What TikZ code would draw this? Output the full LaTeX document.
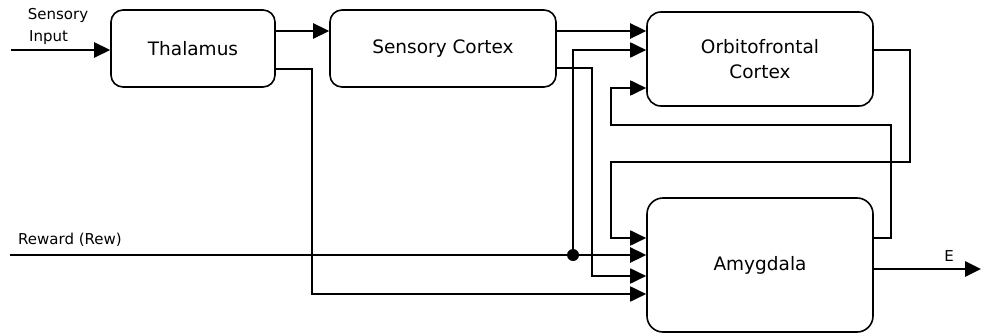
\documentclass[tikz,border=0pt]{standalone}
\usepackage{fontspec}
\setmainfont{DejaVu Sans}
\usetikzlibrary{arrows.meta,calc}
\begin{document}
\begin{tikzpicture}[x=1pt,y=-1pt,
  box/.style={draw,rounded corners=12pt,line width=1.6pt,align=center,inner sep=0pt,
    font=\fontsize{18.5}{25}\selectfont},
  lbl/.style={inner sep=0pt,font=\fontsize{15}{18}\selectfont},
  tip/.style={-{Triangle[length=16pt,width=15pt]}},
  mainln/.style={tip,line width=2.6pt},
  thinln/.style={tip,line width=1.8pt}]
\useasboundingbox (0,0) rectangle (981,334);
% boxes
\node[box,minimum width=164pt,minimum height=77pt] (thal) at (193,48.5) {Thalamus};
\node[box,minimum width=226pt,minimum height=77pt] (sc) at (443,48.5) {Sensory Cortex};
\node[box,minimum width=226pt,minimum height=94pt,rounded corners=14pt] (ofc) at (760,59) {Orbitofrontal\\Cortex};
\node[box,minimum width=226pt,minimum height=134pt,rounded corners=16pt] (amy) at (760,265) {Amygdala};
% labels
\node[lbl] (sens) at (58,15) {Sensory};
\node[lbl,anchor=west] (inp) at (29,38) {Input};
\node[lbl,anchor=west] (rewl) at (18,240) {Reward (Rew)};
\node[lbl] (elbl) at (949,256) {E};
% routing coordinates
\coordinate (in) at (11,50);
\coordinate (y31) at (0,31);
\coordinate (ta) at (312,69);
\coordinate (tb) at (312,294);
\coordinate (ca) at (592,68);
\coordinate (cb) at (592,276);
\coordinate (rw) at (10,255);
\coordinate (j) at (573,255);
\coordinate (da) at (910,162);
\coordinate (db) at (611,162);
\coordinate (dc) at (611,238);
\coordinate (ea) at (891,238);
\coordinate (eb) at (891,125);
\coordinate (ec) at (611,125);
\coordinate (ed) at (611,88);
\coordinate (eo) at (981,269);
% connectors
\draw[mainln] (in) -- (in -| thal.west);
\draw[mainln] (thal.east |- y31) -- (y31 -| sc.west);
\draw[mainln] (sc.east |- y31) -- (y31 -| ofc.west);
\draw[thinln] (thal.east |- ta) -- (ta) -- (tb) -- (tb -| amy.west);
\draw[thinln] (sc.east |- ca) -- (ca) -- (cb) -- (cb -| amy.west);
\draw[mainln] (rw) -- (rw -| amy.west);
\draw[thinln] (j) -- (j |- in) -- (in -| ofc.west);
\fill (j) circle (6pt);
\draw[thinln] (ofc.east |- in) -- (da |- in) -- (da) -- (db) -- (dc) -- (dc -| amy.west);
\draw[thinln] (amy.east |- ea) -- (ea) -- (eb) -- (ec) -- (ed) -- (ed -| ofc.west);
\draw[mainln] (amy.east |- eo) -- (eo);
\end{tikzpicture}
\end{document}
